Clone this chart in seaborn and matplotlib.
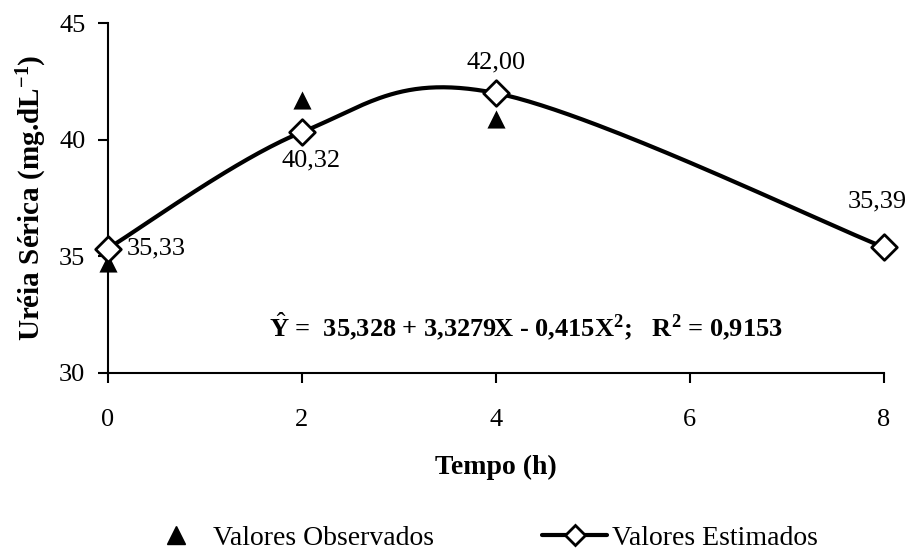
import numpy as np
import pandas as pd
import matplotlib
matplotlib.use("Agg")
import matplotlib.pyplot as plt
import seaborn as sns
from matplotlib.lines import Line2D

# ---- data ----
tempo_obs = [0, 2, 4]
ureia_obs = [34.7, 41.7, 40.9]
tempo_est = [0, 2, 4, 8]
ureia_est = [35.33, 40.32, 42.00, 35.39]
est_labels = ["35,33", "40,32", "42,00", "35,39"]
x_ticks = [0, 2, 4, 6, 8]
y_ticks = [30, 35, 40, 45]

sns.set_theme(style="ticks")
plt.rcParams['font.family'] = ['Liberation Serif', 'DejaVu Serif']
plt.rcParams['mathtext.fontset'] = 'custom'
plt.rcParams['mathtext.rm'] = 'Liberation Serif'
plt.rcParams['mathtext.bf'] = 'Liberation Serif:bold'
plt.rcParams['mathtext.it'] = 'Liberation Serif:italic'
plt.rcParams['text.color'] = 'black'
plt.rcParams['axes.labelcolor'] = 'black'
plt.rcParams['xtick.color'] = 'black'
plt.rcParams['ytick.color'] = 'black'
plt.rcParams['axes.edgecolor'] = 'black'

FS = 19

fig = plt.figure(figsize=(9.12, 5.5), dpi=100)
ax = fig.add_axes([0.118, 0.322, 0.851, 0.636])

# Excel-like smoothed line (Catmull-Rom Bezier) through the estimated points
P = np.column_stack([tempo_est, ureia_est]).astype(float)
n = len(P)
curve = []
for i in range(n - 1):
    p0 = P[i - 1] if i > 0 else P[i]
    p1 = P[i]
    p2 = P[i + 1]
    p3 = P[i + 2] if i + 2 < n else P[i + 1]
    c1 = p1 + (p2 - p0) / 6.0
    c2 = p2 - (p3 - p1) / 6.0
    t = np.linspace(0, 1, 60)[:, None]
    seg = (1 - t) ** 3 * p1 + 3 * (1 - t) ** 2 * t * c1 + 3 * (1 - t) * t ** 2 * c2 + t ** 3 * p2
    curve.append(seg if i == 0 else seg[1:])
curve = np.vstack(curve)
df_curve = pd.DataFrame({"x": curve[:, 0], "y": curve[:, 1]})
sns.lineplot(data=df_curve, x="x", y="y", ax=ax, color="black", linewidth=3,
             sort=False, estimator=None, zorder=2)

df_obs = pd.DataFrame({"x": tempo_obs, "y": ureia_obs})
sns.scatterplot(data=df_obs, x="x", y="y", ax=ax, marker="^", s=170,
                color="black", edgecolor="black", linewidth=0, zorder=3, clip_on=False)

df_est = pd.DataFrame({"x": tempo_est, "y": ureia_est})
sns.scatterplot(data=df_est, x="x", y="y", ax=ax, marker="D", s=170,
                facecolor="white", edgecolor="black", linewidth=2, zorder=4, clip_on=False)

# data labels
offsets = [(14, 0, "left", "center"), (6.5, -20, "center", "center"),
           (0, 22, "center", "center"), (-5, 33, "center", "center")]
for xv, yv, lab, (dx, dy, ha, va) in zip(tempo_est, ureia_est, est_labels, offsets):
    ax.annotate(lab, (xv, yv), xytext=(dx, dy), textcoords="offset points",
                ha=ha, va=va, fontsize=FS, color="black")

ax.text(4.31, 31.55, r"$\hat{\mathbf{Y}}$ =  35,328 + 3,3279X - 0,415X$^{\mathbf{2}}$;   R$^{\mathbf{2}}$ = 0,9153",
        ha="center", va="baseline", fontsize=FS, fontweight="bold", color="black")

ax.set_xlim(0, 8)
ax.set_ylim(30, 45)
ax.set_xticks(x_ticks)
ax.set_yticks(y_ticks)
ax.set_xticklabels([str(v) for v in x_ticks])
ax.set_yticklabels([str(v) for v in y_ticks])
ax.tick_params(axis="both", labelsize=FS, length=7, width=1.5, color="black",
               labelcolor="black", direction="out")
ax.tick_params(axis="x", pad=19)
ax.tick_params(axis="y", pad=9)
for s in ["left", "bottom"]:
    ax.spines[s].set_linewidth(1.5)
    ax.spines[s].set_color("black")
sns.despine(ax=ax)
ax.set_xlabel("Tempo (h)", fontsize=FS + 1, fontweight="bold", labelpad=17, color="black")
ax.set_ylabel(r"Uréia Sérica (mg.dL$^{\mathbf{-1}}$)", fontsize=21, fontweight="bold",
              labelpad=7, color="black")

handles = [
    Line2D([], [], marker="^", color="black", linestyle="none", markersize=13),
    Line2D([], [], marker="D", color="black", markerfacecolor="white",
           markeredgecolor="black", linewidth=3, markersize=10, markeredgewidth=2),
]
leg = fig.legend(handles, ["Valores Observados", "Valores Estimados"], loc="center",
                 bbox_to_anchor=(0.527, 0.022), ncol=2, frameon=False, fontsize=20,
                 columnspacing=3.9, handlelength=2.34, handletextpad=0.15,
                 borderpad=0, borderaxespad=0)
for txt in leg.get_texts():
    txt.set_color("black")

fig.savefig("out.png", dpi=100)
